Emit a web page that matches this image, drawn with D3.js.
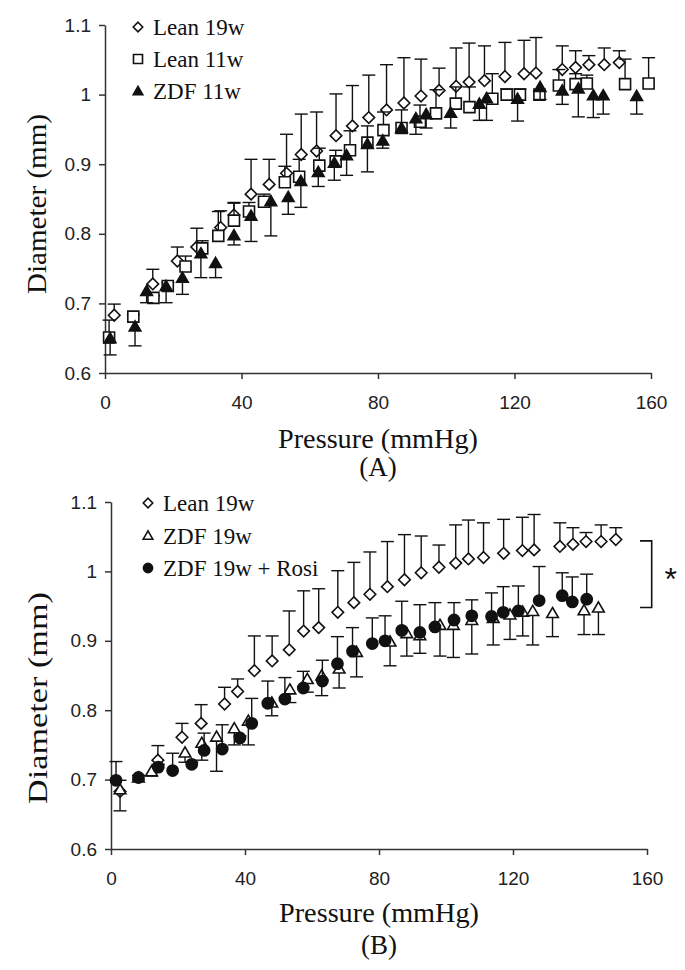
<!DOCTYPE html>
<html><head><meta charset="utf-8">
<script src="https://cdn.jsdelivr.net/npm/d3@7"></script>
<style>
body{margin:0;background:#fff;}
svg{display:block;}
.serif{font-family:"Liberation Serif","Times New Roman",Times,serif;}
.sans{font-family:"Liberation Sans",Arial,Helvetica,sans-serif;}
</style></head>
<body>
<svg id="chart" width="685" height="970"></svg>
<script>
// ---------- DATA ----------
const xTicks = [0, 40, 80, 120, 160];
const yTicks = [0.6, 0.7, 0.8, 0.9, 1.0, 1.1];
const yTickLabels = ["0.6", "0.7", "0.8", "0.9", "1", "1.1"];

// Lean 19w (both panels)
const lean19P = [2.7,14,21.2,26.9,33.9,37.8,42.8,48.1,53.2,57.5,62,67.7,72.5,77.3,82.5,87.6,92.6,97.9,102.9,106.7,111.2,117.2,122.8,126.3,134,137.9,141.8,146.3,150.7];
const lean19D = [0.683,0.728,0.761,0.781,0.809,0.827,0.857,0.871,0.887,0.914,0.919,0.941,0.955,0.967,0.978,0.988,0.998,1.006,1.012,1.018,1.020,1.026,1.030,1.031,1.036,1.039,1.043,1.043,1.046];
const lean19Top = [0.699,0.749,0.781,0.808,0.833,0.845,0.907,0.907,0.943,0.972,0.975,1.001,1.013,1.028,1.043,1.053,1.051,1.038,1.067,1.074,1.070,1.075,1.078,1.082,1.070,1.063,1.056,1.067,1.063];

// Lean 11w (panel A)
const lean11P = [1.2,8.3,14.2,18.4,23.6,28.5,33.2,37.8,42.2,46.6,52.7,56.9,62.8,67.6,71.8,76.9,81.6,86.9,92.3,97,102.8,106.8,113.5,117.7,121.6,127.3,133,137.9,141.2,152.4,159.3];
const lean11D = [0.651,0.681,0.708,0.725,0.753,0.779,0.797,0.819,0.832,0.846,0.874,0.882,0.898,0.904,0.920,0.931,0.949,0.952,0.961,0.973,0.987,0.982,0.994,1.000,1.000,1.000,1.013,1.015,1.016,1.015,1.016];
const lean11Top = [0.676,0.684,0.711,0.730,0.768,0.790,0.832,0.844,0.845,0.857,0.897,0.907,0.923,0.920,0.948,0.955,0.975,0.978,0.985,1.007,1.011,1.011,1.030,1.008,1.008,1.005,1.036,1.030,1.028,1.051,1.053];

// ZDF 11w (panel A)
const zdf11P = [1.5,8.8,12.2,17.9,22.7,28.1,32.4,37.8,42.8,48.6,53.7,57.4,62.5,67.2,70.8,76.9,81.4,86.9,91.1,94.1,101.3,109.7,111.8,120.9,127.5,134,138.7,143.1,146,155.8];
const zdf11D = [0.650,0.667,0.718,0.725,0.737,0.772,0.758,0.798,0.826,0.847,0.853,0.876,0.889,0.902,0.913,0.929,0.934,0.952,0.966,0.972,0.974,0.987,0.995,0.994,1.011,1.006,1.009,0.999,0.999,0.998];
const zdf11Bot = [0.626,0.639,0.701,0.701,0.713,0.737,0.737,0.784,0.789,0.797,0.828,0.838,0.868,0.877,0.884,0.889,0.923,0.945,0.943,0.952,0.952,0.963,0.963,0.962,0.993,0.986,0.968,0.967,0.972,0.972];

// ZDF 19w (panel B)
const zdf19P = [2.7,8.2,12.1,22.1,27.1,31.5,36.8,41,48,53.4,58.6,62.9,68.1,73.3,83.3,88.3,92.2,98.2,102.2,107.7,114.1,119.1,122.9,125.9,131.8,141.2,145.5];
const zdf19D = [0.686,0.703,0.712,0.739,0.753,0.762,0.774,0.785,0.811,0.830,0.845,0.850,0.860,0.884,0.899,0.911,0.908,0.923,0.923,0.930,0.933,0.938,0.942,0.943,0.940,0.944,0.948];
const zdf19Bot = [0.655,0.700,0.705,0.725,0.728,0.712,0.750,0.750,0.792,0.811,0.826,0.821,0.832,0.848,0.864,0.878,0.882,0.878,0.876,0.881,0.894,0.902,0.907,0.894,0.906,0.909,0.909];

// ZDF 19w + Rosi (panel B)
const rosiP = [1.5,8.2,14.1,18.4,24.1,27.8,33.2,38.5,42,46.8,51.9,57.4,63.1,67.6,72.1,78,81.8,86.8,92.2,96.7,102.4,107.7,113.6,117.1,121.6,127.8,134.7,137.7,142];
const rosiD = [0.699,0.703,0.718,0.713,0.722,0.742,0.744,0.760,0.781,0.810,0.816,0.832,0.842,0.867,0.885,0.896,0.900,0.915,0.912,0.920,0.930,0.936,0.935,0.941,0.943,0.958,0.965,0.956,0.960];
const rosiTop = [0.726,0.706,0.722,0.738,0.725,0.767,0.779,0.763,0.817,0.842,0.847,0.856,0.872,0.906,0.919,0.933,0.936,0.957,0.952,0.955,0.955,0.959,0.969,0.978,0.979,1.007,0.998,0.992,0.996];

// significance bracket (panel B)
const bracketP = [157.9, 161.4];
const bracketD = [1.044, 0.948];

// ---------- DRAW ----------
const svg = d3.select("#chart");
const INK = "#111";
const AX = "#333";

const markerPath = {
  diamond: r => `M0,${-r}L${r},0L0,${r}L${-r},0Z`,
  square: r => `M${-r},${-r}H${r}V${r}H${-r}Z`,
  triangle: r => `M0,${-r*1.05}L${r*1.1},${r*0.85}L${-r*1.1},${r*0.85}Z`,
  circle: r => d3.arc()({innerRadius:0,outerRadius:r,startAngle:0,endAngle:2*Math.PI})
};

function drawMarker(g, type, filled, r) {
  g.append("path").attr("d", markerPath[type](r))
    .attr("fill", filled ? INK : "#fff")
    .attr("stroke", INK).attr("stroke-width", 1.6);
}

function panel(opts) {
  const x = d3.scaleLinear().domain([0, 160]).range(opts.xr);
  const y = d3.scaleLinear().domain([0.6, 1.1]).range(opts.yr);
  const g = svg.append("g");

  // axes
  const yAxis = d3.axisLeft(y).tickValues(yTicks).tickSize(6).tickSizeOuter(0).tickPadding(8)
    .tickFormat((d, i) => yTickLabels[i]);
  const xAxis = d3.axisBottom(x).tickValues(xTicks).tickSize(6).tickSizeOuter(0).tickPadding(17)
    .tickFormat(d => String(d));
  const ya = g.append("g").attr("transform", `translate(${opts.xr[0]},0)`).call(yAxis);
  const xa = g.append("g").attr("transform", `translate(0,${opts.yr[0]})`).call(xAxis);
  [ya, xa].forEach(a => {
    a.attr("font-family", null).attr("font-size", null);
    a.select(".domain").attr("stroke", AX).attr("stroke-width", 1.5);
    a.selectAll(".tick line").attr("stroke", AX).attr("stroke-width", 1.5);
    a.selectAll(".tick text").attr("fill", "#222").attr("class", "sans").attr("font-size", 19);
  });

  // series
  opts.series.forEach(s => {
    const sg = g.append("g");
    const pts = s.P.map((p, i) => ({p, d: s.D[i], e: s.E[i]}));
    const cap = 6.5;
    const eb = sg.selectAll("g.eb").data(pts).enter().append("g");
    eb.append("line")
      .attr("x1", d => x(d.p)).attr("x2", d => x(d.p))
      .attr("y1", d => y(d.d)).attr("y2", d => y(d.e))
      .attr("stroke", INK).attr("stroke-width", 1.4);
    eb.append("line")
      .attr("x1", d => x(d.p) - cap).attr("x2", d => x(d.p) + cap)
      .attr("y1", d => y(d.e)).attr("y2", d => y(d.e))
      .attr("stroke", INK).attr("stroke-width", 1.4);
    sg.selectAll("g.m").data(pts).enter().append("g")
      .attr("transform", d => `translate(${x(d.p)},${y(d.d)})`)
      .each(function () { drawMarker(d3.select(this), s.type, s.filled, s.r); });
  });

  // legend
  opts.series.forEach((s, i) => {
    const ly = opts.legend.y + i * opts.legend.dy;
    const lg = g.append("g").attr("transform", `translate(${opts.legend.x},${ly})`);
    drawMarker(lg, s.type, s.filled, s.r * 0.82);
    g.append("text").attr("class", "serif").attr("x", opts.legend.x + 15).attr("y", ly + 8)
      .attr("font-size", 23).attr("fill", "#111").text(s.name);
  });

  // axis labels
  const cx = (opts.xr[0] + opts.xr[1]) / 2;
  g.append("text").attr("class", "serif").attr("x", cx).attr("y", opts.xlabY).attr("text-anchor", "middle")
    .attr("textLength", 200).attr("lengthAdjust", "spacingAndGlyphs")
    .attr("font-size", 27).attr("fill", "#111").text("Pressure (mmHg)");
  g.append("text").attr("class", "serif").attr("x", cx).attr("y", opts.capY).attr("text-anchor", "middle")
    .attr("font-size", 27).attr("fill", "#111").text(opts.caption);
  g.append("text").attr("class", "serif")
    .attr("transform", `translate(${opts.ylabX},${opts.ylabC}) rotate(-90)`)
    .attr("text-anchor", "middle").attr("textLength", opts.ylabLen).attr("lengthAdjust", "spacingAndGlyphs")
    .attr("font-size", 28).attr("fill", "#111").text("Diameter (mm)");

  return {x, y, g};
}

panel({
  xr: [105, 651], yr: [373, 25],
  series: [
    {name: "Lean 19w", type: "diamond", filled: false, r: 5.8, P: lean19P, D: lean19D, E: lean19Top},
    {name: "Lean 11w", type: "square", filled: false, r: 5.5, P: lean11P, D: lean11D, E: lean11Top},
    {name: "ZDF 11w", type: "triangle", filled: true, r: 5.3, P: zdf11P, D: zdf11D, E: zdf11Bot}
  ],
  legend: {x: 138, y: 27, dy: 32},
  xlabY: 448, capY: 476, caption: "(A)",
  ylabX: 46, ylabC: 204, ylabLen: 180
});

const B = panel({
  xr: [111, 647], yr: [849, 502],
  series: [
    {name: "Lean 19w", type: "diamond", filled: false, r: 5.8, P: lean19P, D: lean19D, E: lean19Top},
    {name: "ZDF 19w", type: "triangle", filled: false, r: 5.3, P: zdf19P, D: zdf19D, E: zdf19Bot},
    {name: "ZDF 19w + Rosi", type: "circle", filled: true, r: 5.6, P: rosiP, D: rosiD, E: rosiTop}
  ],
  legend: {x: 148, y: 503, dy: 32.5},
  xlabY: 922, capY: 954, caption: "(B)",
  ylabX: 47, ylabC: 698, ylabLen: 212
});

// bracket with asterisk
B.g.append("path")
  .attr("d", `M${B.x(bracketP[0])},${B.y(bracketD[0])}H${B.x(bracketP[1])}V${B.y(bracketD[1])}H${B.x(bracketP[0])}`)
  .attr("fill", "none").attr("stroke", INK).attr("stroke-width", 1.6);
B.g.append("text").attr("class", "sans").attr("x", B.x(bracketP[1]) + 19).attr("y", B.y((bracketD[0] + bracketD[1]) / 2) + 16)
  .attr("text-anchor", "middle").attr("font-size", 32).attr("fill", "#111").text("*");
</script>
</body></html>
